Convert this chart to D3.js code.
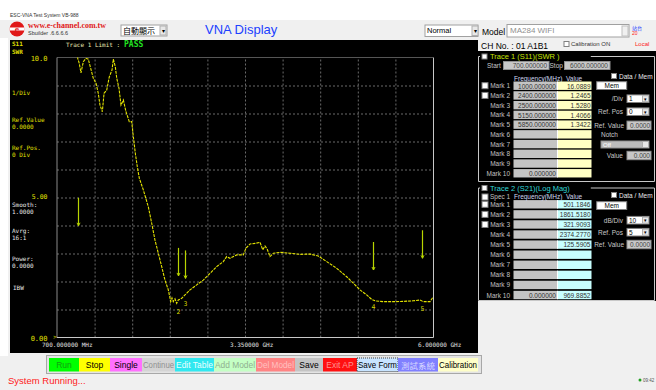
<!DOCTYPE html>
<html><head><meta charset="utf-8">
<script src="https://cdn.jsdelivr.net/npm/d3@7"></script>
<style>body{margin:0;background:#f0f0f0;overflow:hidden}svg{display:block}</style>
</head><body><svg id="c" width="656" height="390"></svg>
<script>
// ---------- DATA ----------
const freqMHz = [970,992,1014,1038,1071,1109,1141,1175,1212,1250,1282,1306,1339,1363,1401,1437,1475,1494,1522,1542,1574,1602,1635,1673,1719,1753,1776,1804,1832,1860,1917,1987,2035,2081,2128,2176,2222,2269,2303,2321,2339,2363,2387,2410,2458,2504,2575,2669,2762,2857,2951,3044,3092,3139,3233,3326,3364,3421,3491,3562,3600,3632,3664,3702,3749,3843,3984,4125,4266,4383,4502,4643,4784,4877,4971,5066,5136,5183,5300,5441,5581,5722,5817,5863,5958,6000];
const swrValues = [10.6,9.97,9.79,9.45,9.85,9.97,9.94,9.61,9.26,9.08,8.72,8.30,8.06,8.72,8.84,9.31,9.55,9.94,9.67,9.26,8.90,8.30,8.48,8.06,7.71,7.71,7.17,6.58,6.10,5.69,5.27,4.67,4.08,3.48,3.01,2.53,2.05,1.70,1.28,1.41,1.28,1.38,1.22,1.34,1.40,1.52,1.70,1.88,2.05,2.29,2.53,2.71,2.89,2.83,2.95,2.95,3.19,3.34,3.36,3.40,3.13,3.27,3.15,2.89,3.01,3.04,3.01,2.97,2.98,2.91,2.71,2.47,2.17,1.94,1.70,1.52,1.36,1.31,1.28,1.28,1.29,1.31,1.34,1.28,1.28,1.44];
const xTickValues = [700,3350,6000];
const xTickLabels = ["700.000000 MHz","3.350000 GHz","6.000000 GHz"];
const yTickValues = [10,5,0];
const yTickLabels = ["10.0","5.00","0.00"];
const markerNames = ["1","2","3","4","5"];
const markerFreqs = [1000,2400,2500,5150,5850];
const markerSWR = [16.0889,1.2465,1.5280,1.4066,1.3422];
const markerArrowTip = [3.99,2.20,2.11,2.41,2.83];
const t1Freq = ["1000.000000","2400.000000","2500.000000","5150.000000","5850.000000","","","","","0.000000"];
const t1Value = ["16.0889","1.2465","1.5280","1.4066","1.3422","","","","",""];
const t2Freq = ["","","","","","","","","","0.000000"];
const t2Value = ["501.1846","1861.5180","321.9093","2374.2770","125.5905","","","","","969.8852"];
const buttonLabels = ["Run","Stop","Single","Continue","Edit Table","Add Model","Del Model","Save","Exit AP","Save Form","測試系統","Calibration"];

// ---------- LAYOUT / STYLE ----------
const buttonEdges = [49,79,110,142,175,214,256,295,323,357,398,438,478];
const buttonFill = ["#00ff00","#ffff00","#ff70ff","#d4d4d4","#30e8f0","#c4ffc4","#ff8484","#c4c4c4","#ff1010","#c8e4ff","#8080ff","#ffffc8"];
const buttonText = ["#10a010","#000","#000","#909090","#e8ffff","#90b090","#ffc0c0","#000","#ff9090","#000","#d8d8ff","#000"];

const SANS = "'Liberation Sans', Arial, sans-serif";
const svg = d3.select("#c");
function R(x,y,w,h,fill,stroke,sw){return svg.append("rect").attr("x",x).attr("y",y).attr("width",w).attr("height",h).attr("fill",fill||"none").attr("stroke",stroke||"none").attr("stroke-width",sw||1);}
function T(x,y,s,o){o=o||{};const t=svg.append("text").attr("x",x).attr("y",y).text(s)
 .attr("font-size",o.size||7).attr("fill",o.fill||"#000").attr("text-anchor",o.anchor||"start")
 .attr("dominant-baseline","central").style("font-family",o.family||SANS);
 if(o.weight)t.attr("font-weight",o.weight);
 if(o.fit){const w=t.node().getComputedTextLength(); if(w>o.fit) t.attr("textLength",o.fit).attr("lengthAdjust","spacingAndGlyphs");}
 return t;}

// window background
R(0,0,656,20,"#ffffff");
R(0,20,656,370,"#f0f0f0");
R(0,38,8,318,"#ffffff");
T(10,14.5,"ESC-VNA Test System VB-988",{size:5,fill:"#333"});

// header
svg.append("circle").attr("cx",17).attr("cy",29).attr("r",7.5).attr("fill","#e01818");
R(9.5,27.5,15,3,"#ffffff");
T(17,29,"e",{size:8,fill:"#e01818",anchor:"middle",weight:"bold"});
T(28,25.5,"www.e-channel.com.tw",{size:8,fill:"#e01818",family:"'Liberation Serif', serif",weight:"bold",fit:78});
T(28,32.5,"Sbuilder .6.6.6.6",{size:5.5,fill:"#333"});
R(121,25,46,11,"#ffffff","#a0a0a0");
T(123,30.5,"自動顯示",{size:8,family:"'Noto Sans CJK TC', sans-serif"});
R(160,26,6,9,"#e8e8e8","#b0b0b0"); T(163,30.5,"▾",{size:6,anchor:"middle"});
T(205,29,"VNA Display",{size:13,fill:"#2040ff"});
R(425,25,53,11.5,"#ffffff","#a0a0a0");
T(427,30.8,"Normal",{size:7.5});
R(472,26,6,9.5,"#e8e8e8","#b0b0b0"); T(475,30.8,"▾",{size:6,anchor:"middle"});
T(482,31.5,"Model",{size:8.5});
R(507,24.5,122,12.5,"#ffffff","#a0a0a0");
T(510,30.8,"MA284   WIFI",{size:8,fill:"#909090"});
R(622,26,6,10,"#f0f0f0","#c0c0c0");
T(632,27,"站台",{size:5,fill:"#2040ff",family:"'Noto Sans CJK TC', sans-serif"});
T(632,33,"20",{size:5,fill:"#ff2020"});

// ---------- CHART PANEL ----------
R(10,40,468,313,"#000000");
const x = d3.scaleLinear().domain([700,6000]).range([57,433]);
const y = d3.scaleLinear().domain([0,10]).range([337.5,57.5]);

const gridX = d3.range(0,11).map(i=>700+i*530);
const gridY = d3.range(0,11);
const g = svg.append("g");
g.append("g").attr("transform","translate(0,337.5)")
 .call(d3.axisBottom(x).tickValues(gridX.slice(1,-1)).tickSize(-280).tickFormat(""))
 .call(a=>{a.select(".domain").remove();a.selectAll("line").attr("stroke","#6a6a6a").attr("stroke-dasharray","2,2");});
g.append("g").attr("transform","translate(57,0)")
 .call(d3.axisLeft(y).tickValues(gridY.slice(1,-1)).tickSize(-376).tickFormat(""))
 .call(a=>{a.select(".domain").remove();a.selectAll("line").attr("stroke","#6a6a6a").attr("stroke-dasharray","2,2");});
svg.append("line").attr("x1",57).attr("x2",433).attr("y1",57.5).attr("y2",57.5).attr("stroke","#555");
svg.append("line").attr("x1",57).attr("x2",57).attr("y1",57.5).attr("y2",337.5).attr("stroke","#8a8a8a");
svg.append("line").attr("x1",57).attr("x2",433.5).attr("y1",337.5).attr("y2",337.5).attr("stroke","#c8c8c8");
svg.append("line").attr("x1",433.5).attr("x2",433.5).attr("y1",57.5).attr("y2",337.5).attr("stroke","#c8c8c8");

svg.append("clipPath").attr("id","pc").append("rect").attr("x",57).attr("y",57.5).attr("width",377).attr("height",281);
const pts = freqMHz.map((f,i)=>[f,swrValues[i]]);
svg.append("path").attr("clip-path","url(#pc)").datum(pts)
 .attr("d",d3.line().x(d=>x(d[0])).y(d=>y(d[1])))
 .attr("fill","none").attr("stroke","#e4e400").attr("stroke-width",1.1).attr("stroke-dasharray","3,1");

// markers
const mono = "'DejaVu Sans Mono', monospace";
const mg = svg.append("g");
markerFreqs.forEach((f,i)=>{
  const xp = Math.round(x(f))+0.5, yt = y(markerArrowTip[i]), yb = y(markerArrowTip[i]+1);
  mg.append("line").attr("x1",xp).attr("x2",xp).attr("y1",yb).attr("y2",yt).attr("stroke","#b8d400").attr("stroke-width",1.2);
  mg.append("path").attr("d",`M${xp-1.5},${yt-3}L${xp},${yt}L${xp+1.5},${yt-3}`).attr("fill","none").attr("stroke","#b8d400");
  const ly = y(markerSWR[i])+9;
  if(ly>60 && ly<337) T(xp,ly,markerNames[i],{size:6.5,fill:"#d8d800",anchor:"middle",family:mono});
});

// left labels
const lab = (yy,s,c)=>T(12,yy,s,{size:6,fill:c,family:mono});
T(12,43.5,"S11",{size:6,fill:"#e0e000",family:mono,weight:"bold"});
T(12,51,"SWR",{size:6,fill:"#e0e000",family:mono,weight:"bold"});
T(66,44.5,"Trace 1 Limit :",{size:6,fill:"#e8e8b0",family:mono});
T(124,44.5,"PASS",{size:8,fill:"#20e020",family:mono,weight:"bold"});
yTickValues.forEach((v,i)=>T(47.5,y(v)+(i===1?-0.5:1),yTickLabels[i],{size:i===1?6.5:7,fill:"#e0e000",family:mono,anchor:"end"}));
lab(92.5,"1/Div","#e0e000");
lab(119,"Ref.Value","#e0e000");
lab(126.3,"0.0000","#e0e000");
lab(147,"Ref.Pos.","#e0e000");
lab(154.3,"0 Div","#e0e000");
lab(204.5,"Smooth:","#e8e8e8");
lab(211.8,"1.0000","#e8e8e8");
lab(230.5,"Avrg:","#e8e8e8");
lab(237.8,"16:1","#e8e8e8");
lab(258.5,"Power:","#e8e8e8");
lab(265.8,"0.0000","#e8e8e8");
T(13,287.7,"IBW",{size:6,fill:"#e8e8e8",family:mono});
T(55,336.5,">",{size:6,fill:"#e0e000",family:mono,anchor:"middle"});
xTickValues.forEach((v,i)=>T(x(v)-15,344.5,xTickLabels[i],{size:6,fill:"#e0e0e0",family:mono}));

// ---------- RIGHT PANEL ----------
T(481,45.5,"CH No. : 01 A1B1",{size:8.5});
R(564,41.5,5,5,"#fff","#808080");
T(571,44,"Calibration ON",{size:6,fill:"#333"});
T(635,44,"Local",{size:6,fill:"#ff2020"});
R(478,51,178,250,"#000000");

function group(top,bottom,title,titleColor){
  svg.append("path").attr("d",`M478.5,${top}H654.5V${bottom}H478.5Z`).attr("fill","none").attr("stroke","#c8c8c8");
  const tw = title.length*4.4+14;
  R(480,top-4,tw,8,"#000");
  R(482,top-2.5,5,5,"#fff","#808080");
  T(490,top,title,{size:7.5,fill:titleColor});
}
group(56.5,181.5,"Trace 1 (S11)(SWR    )","#c8e400");
group(188,300.5,"Trace 2 (S21)(Log Mag)","#30d8d8");

// trace1
T(487,65.3,"Start",{size:6.5,fill:"#c8c8c8"});
R(503.5,61.5,45.5,8,"#c8c8c8","#909090");
T(547,65.5,"700.000000",{size:6.5,fill:"#444",anchor:"end"});
T(549.5,65.3,"Stop",{size:6.5,fill:"#c8c8c8"});
R(564.5,61.5,45.5,8,"#c8c8c8","#909090");
T(608,65.5,"6000.000000",{size:6.5,fill:"#444",anchor:"end"});
T(514,78.3,"Frequency(MHz)",{size:6.5,fill:"#d0d8f0"});
T(566,78.3,"Value",{size:6.5,fill:"#d0d8f0"});

function rows(cy0,step,freqs,vals,valFill,checks){
  for(let i=0;i<10;i++){
    const cy = cy0+i*step;
    R(513.5,cy-4.2,44,8.4,"#c4c4c4");
    R(557.5,cy-4.2,34,8.4,valFill);
    svg.append("line").attr("x1",557.5).attr("x2",557.5).attr("y1",cy-4.2).attr("y2",cy+4.2).attr("stroke","#fff");
    T(510,cy,"Mark "+(i+1),{size:6.5,fill:"#c0c0c0",anchor:"end"});
    if(freqs[i]) T(556,cy+0.3,freqs[i],{size:6.5,fill:"#333",anchor:"end"});
    if(vals[i]) T(590.5,cy+0.3,vals[i],{size:6.5,fill:"#333",anchor:"end"});
    if(i<checks) R(482,cy-3,6,6,"#fff","#808080");
  }
}
rows(85.7,9.73,t1Freq,t1Value,"#ffffc4",2);
rows(204.3,10.08,t2Freq,t2Value,"#c8ffff",3);
R(482,194,6,6,"#fff","#808080");
T(490,196.7,"Spec 1",{size:6.5,fill:"#c0c0c0"});
T(514,196.7,"Frequency(MHz)",{size:6.5,fill:"#d0d8f0"});
T(566,196.7,"Value",{size:6.5,fill:"#d0d8f0"});

function dataMem(cy){R(611.5,cy-2.5,5,5,"#fff","#808080");T(619,cy,"Data / Mem",{size:6.5,fill:"#e8e8e8"});}
function memBtn(y0){R(596.7,y0,30,7.8,"#ffffff","#808080");T(611.7,y0+3.9,"Mem",{size:6.5,anchor:"middle"});}
function drop(cy,val){R(627,cy-3.8,22,7.6,"#ffffff","#808080");T(629,cy,val,{size:6.5});R(642.5,cy-3,6,6,"#e8e8e8","#b0b0b0");T(645.5,cy,"▾",{size:5,anchor:"middle"});}
function box(cy,val){R(627,cy-4.2,24,8.4,"#c8c8c8","#909090");T(650,cy,val,{size:6.5,fill:"#444",anchor:"end"});}
dataMem(76); memBtn(81.7);
T(623,98.7,"/Div",{size:6.5,fill:"#c8c8c8",anchor:"end"}); drop(98.7,"1");
T(623,111.7,"Ref. Pos",{size:6.5,fill:"#c8c8c8",anchor:"end"}); drop(111.7,"0");
T(624,125.3,"Ref. Value",{size:6.5,fill:"#c8c8c8",anchor:"end"}); box(125.3,"0.0000");
T(601,134.7,"Notch",{size:6.5,fill:"#c8c8c8"});
R(601,141,48,7,"#bcbcbc","#909090"); T(603,144.5,"Off",{size:6,fill:"#fff"}); R(642.5,141.5,6,6,"#e8e8e8","#b0b0b0");
T(623,155.5,"Value",{size:6.5,fill:"#c8c8c8",anchor:"end"}); box(155.5,"0.000");

dataMem(195); memBtn(201.7);
T(623,220.2,"dB/Div",{size:6.5,fill:"#c8c8c8",anchor:"end"}); drop(220.2,"10");
T(623,232.2,"Ref. Pos",{size:6.5,fill:"#c8c8c8",anchor:"end"}); drop(232.2,"5");
T(624,244.5,"Ref. Value",{size:6.5,fill:"#c8c8c8",anchor:"end"}); box(244.5,"0.0000");

// ---------- BUTTONS ----------
R(46.5,355.5,435,18,"#e4e4e4","#a8a8a8");
buttonLabels.forEach((b,i)=>{
  const x0=buttonEdges[i], x1=buttonEdges[i+1];
  R(x0,358,x1-x0,13.5,buttonFill[i],i===9?"#404040":"none").attr("stroke-dasharray",i===9?"1,1":null);
  T((x0+x1)/2,365,b,{size:8.5,fill:buttonText[i],anchor:"middle",family:i===10?"'Noto Sans CJK TC', sans-serif":SANS,fit:x1-x0-2});
});
T(8,380.5,"System Running...",{size:9.5,fill:"#ff2020"});
svg.append("circle").attr("cx",640).attr("cy",380).attr("r",1.5).attr("fill","#20a020");
T(643,380,"09:42",{size:4.5,fill:"#555"});
</script></body></html>
